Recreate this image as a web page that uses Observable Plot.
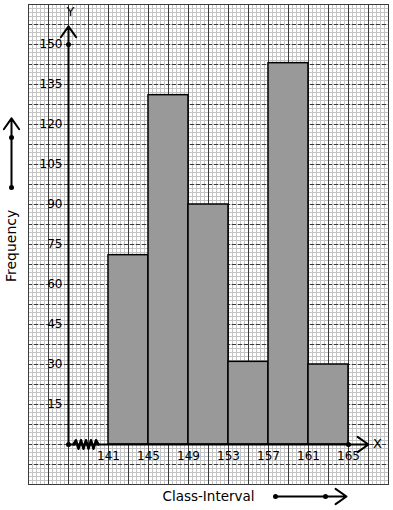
<!DOCTYPE html>
<html>
<head>
<meta charset="utf-8">
<script src="https://cdn.jsdelivr.net/npm/d3@7"></script>
<script src="https://cdn.jsdelivr.net/npm/@observablehq/plot@0.6"></script>
<style>
  html, body { margin: 0; padding: 0; background: #fff; }
  #chart svg { display: block; }
</style>
</head>
<body>
<div id="chart"></div>
<script>
// Data
const classStarts = [141, 145, 149, 153, 157, 161];
const classWidth = 4;
const frequencies = [71, 131, 90, 31, 143, 30];
const xTickLabels = [141, 145, 149, 153, 157, 161, 165];
const yTickLabels = [15, 30, 45, 60, 75, 90, 105, 120, 135, 150];

const bars = classStarts.map((s, i) => ({x1: s, x2: s + classWidth, y: frequencies[i]}));

// graph-paper geometry
const xDomain = [133, 169];
const yDomain = [-15, 165];
const origin = 137;
const minorX = d3.range(xDomain[0], xDomain[1] + 1e-9, 0.4);
const majorX = d3.range(xDomain[0], xDomain[1] + 1e-9, 2);
const minorY = d3.range(yDomain[0], yDomain[1] + 1e-9, 1.5);
const majorY = d3.range(yDomain[0], yDomain[1] + 1e-9, 7.5);

// zigzag break on x axis
const zig = d3.range(0, 11).map(i => ({x: 137.5 + i * 0.25, y: i === 0 || i === 10 ? 0 : (i % 2 ? 1.6 : -1.6)}));

const chart = Plot.plot({
  width: 393,
  height: 510,
  marginLeft: 28,
  marginRight: 5,
  marginTop: 4,
  marginBottom: 26,
  x: {domain: xDomain, axis: null},
  y: {domain: yDomain, axis: null},
  style: {fontFamily: "DejaVu Sans", fontSize: "12px", background: "#fff"},
  marks: [
    Plot.ruleX(minorX, {stroke: "#c4c4c4", strokeWidth: 1}),
    Plot.ruleY(minorY, {stroke: "#c4c4c4", strokeWidth: 1}),
    Plot.ruleX(majorX, {stroke: "#3a3a3a", strokeWidth: 1}),
    Plot.ruleY(majorY, {stroke: "#3a3a3a", strokeWidth: 1, strokeDasharray: "4,2"}),
    Plot.frame({stroke: "#3a3a3a"}),
    Plot.rectY(bars, {x1: "x1", x2: "x2", y: "y", fill: "#999999", stroke: "#000", strokeWidth: 1.5}),
    // axes
    Plot.arrow([{x1: origin, y1: 0, x2: origin, y2: 156.8}], {x1: "x1", y1: "y1", x2: "x2", y2: "y2", stroke: "#000", strokeWidth: 2, headLength: 10, headAngle: 70}),
    Plot.arrow([{x1: origin, y1: 0, x2: 167, y2: 0}], {x1: "x1", y1: "y1", x2: "x2", y2: "y2", stroke: "#000", strokeWidth: 2, headLength: 10, headAngle: 70}),
    Plot.line(zig, {x: "x", y: "y", stroke: "#000", strokeWidth: 2.5}),
    Plot.dot([{x: origin, y: 0}, {x: origin, y: 150}, {x: 165, y: 0}], {x: "x", y: "y", r: 2.5, fill: "#000"}),
    // tick labels
    Plot.text(yTickLabels, {x: origin, y: d => d, text: d => String(d), dx: -6, textAnchor: "end", fill: "#000", ariaLabel: "ytick"}),
    Plot.text(xTickLabels, {x: d => d, y: 0, text: d => String(d), dy: 12, fill: "#000", ariaLabel: "xtick"}),
    // axis names
    Plot.text(["Y"], {x: 137.2, y: 162.3, text: d => d, fontSize: 13, ariaLabel: "axname"}),
    Plot.text(["X"], {x: 167.9, y: 0.3, text: d => d, fontSize: 13, ariaLabel: "axname"}),
    Plot.text(["Frequency"], {x: 131.3, y: 74.5, text: d => d, rotate: -90, fontSize: 14}),
    Plot.text(["Class-Interval"], {x: 151, y: -19.5, text: d => d, fontSize: 13.5}),
    // side arrows
    Plot.arrow([{x1: 131.3, y1: 96.4, x2: 131.3, y2: 122.3}], {x1: "x1", y1: "y1", x2: "x2", y2: "y2", stroke: "#000", strokeWidth: 2, headLength: 10, headAngle: 70}),
    Plot.dot([{x: 131.3, y: 96.4}, {x: 131.3, y: 115.1}], {x: "x", y: "y", r: 2.5, fill: "#000"}),
    Plot.arrow([{x1: 157.7, y1: -19.5, x2: 164.8, y2: -19.5}], {x1: "x1", y1: "y1", x2: "x2", y2: "y2", stroke: "#000", strokeWidth: 2, headLength: 10, headAngle: 70}),
    Plot.dot([{x: 157.7, y: -19.5}, {x: 162.7, y: -19.5}], {x: "x", y: "y", r: 2.5, fill: "#000"})
  ]
});

document.getElementById("chart").appendChild(chart);

// white boxes behind tick labels
for (const sel of ['g[aria-label="ytick"] text', 'g[aria-label="xtick"] text', 'g[aria-label="axname"] text']) {
  chart.querySelectorAll(sel).forEach(t => {
    const b = t.getBBox();
    const r = document.createElementNS("http://www.w3.org/2000/svg", "rect");
    r.setAttribute("x", b.x - 1);
    r.setAttribute("y", b.y + 1);
    r.setAttribute("width", b.width + 2);
    r.setAttribute("height", b.height - 2);
    r.setAttribute("fill", "#fff");
    const tr = t.getAttribute("transform");
    if (tr) r.setAttribute("transform", tr);
    t.parentNode.insertBefore(r, t);
  });
}
</script>
</body>
</html>
